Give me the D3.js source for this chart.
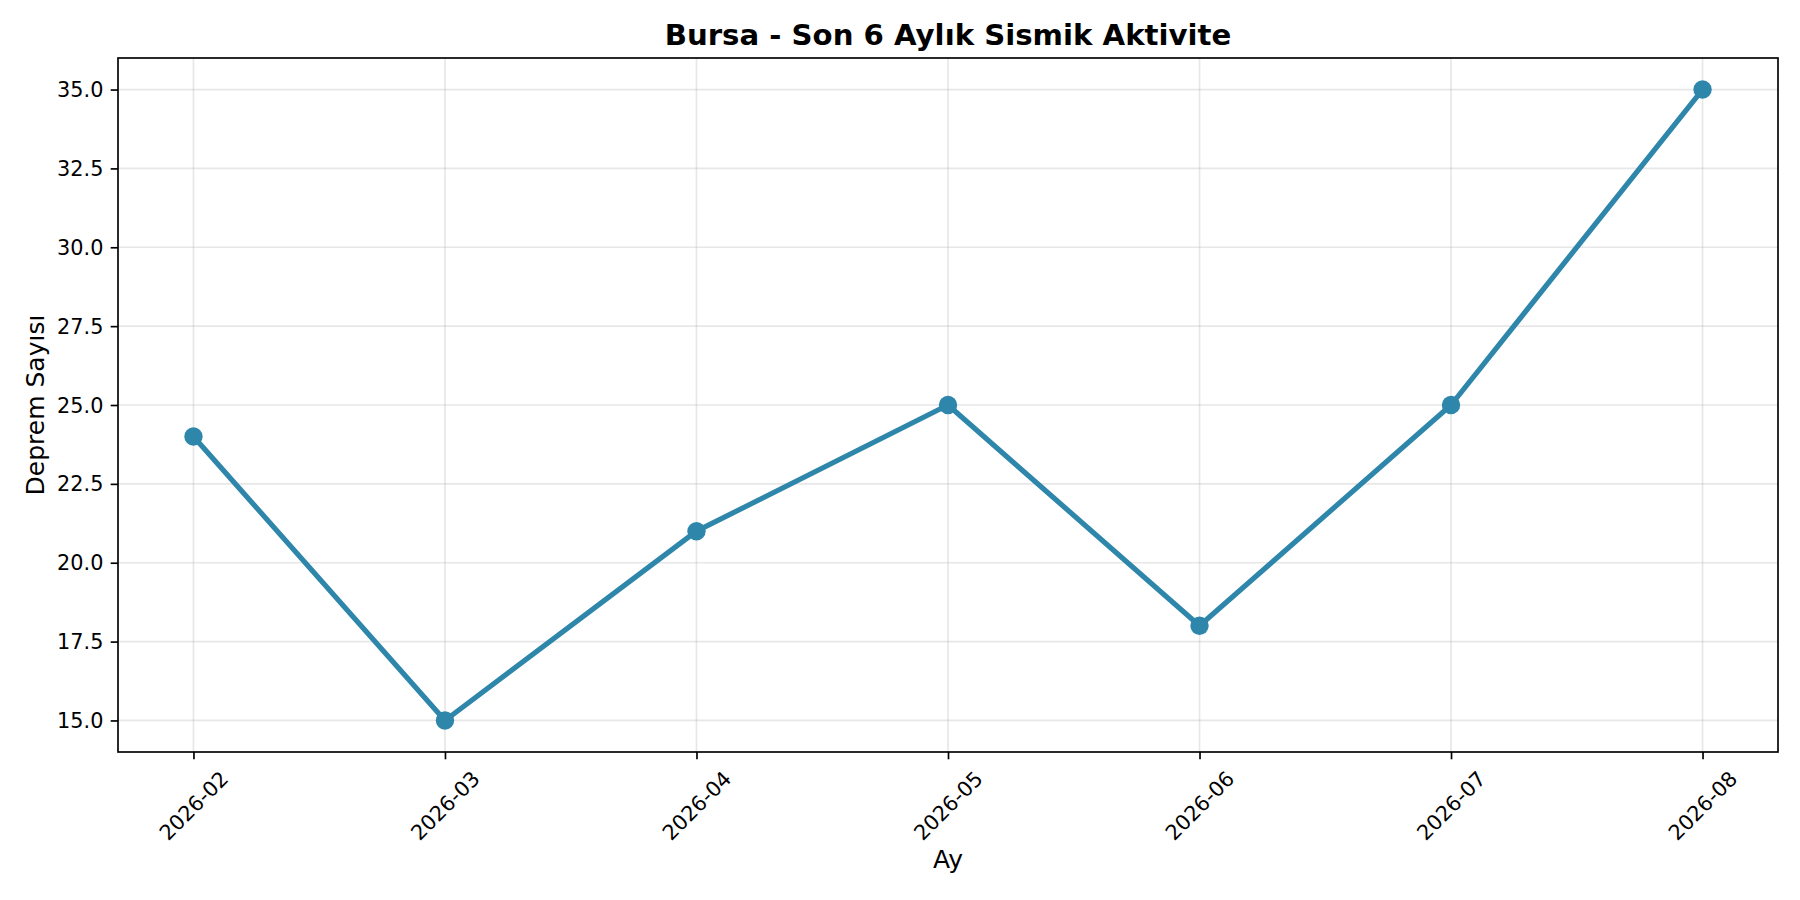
<!DOCTYPE html>
<html>
<head>
<meta charset="utf-8">
<script src="https://cdn.jsdelivr.net/npm/d3@7"></script>
<style>
  body { margin: 0; background: #fff; }
  svg { font-family: "DejaVu Sans", sans-serif; }
</style>
</head>
<body>
<svg width="1800" height="900"></svg>
<script>
// data
const months = ["2026-02", "2026-03", "2026-04", "2026-05", "2026-06", "2026-07", "2026-08"];
const counts = [24, 15, 21, 25, 18, 25, 35];
const yTicks = [15.0, 17.5, 20.0, 22.5, 25.0, 27.5, 30.0, 32.5, 35.0];

const titleText = "Bursa - Son 6 Aylık Sismik Aktivite";
const xLabel = "Ay";
const yLabel = "Deprem Sayısı";

var svg = d3.select("svg");
const width = +svg.attr("width");
const height = +svg.attr("height");
const margin = { top: 58, right: 22, bottom: 148, left: 118 };
const lineColor = "#2E86AB";

// matplotlib style 5% margins on both axes
const n = months.length;
const x = d3.scaleLinear()
	.domain([-0.05 * (n - 1), (n - 1) * 1.05])
	.range([margin.left, width - margin.right]);

const yMin = d3.min(counts), yMax = d3.max(counts);
const yPad = (yMax - yMin) * 0.05;
const y = d3.scaleLinear()
	.domain([yMin - yPad, yMax + yPad])
	.range([height - margin.bottom, margin.top]);

// grid
const grid = svg.append("g")
	.attr("stroke", "#b0b0b0")
	.attr("stroke-opacity", 0.3)
	.attr("stroke-width", 1.67);

grid.selectAll("line.v")
	.data(months)
	.join("line")
	.attr("class", "v")
	.attr("x1", (d, i) => x(i))
	.attr("x2", (d, i) => x(i))
	.attr("y1", margin.top)
	.attr("y2", height - margin.bottom);

grid.selectAll("line.h")
	.data(yTicks)
	.join("line")
	.attr("class", "h")
	.attr("x1", margin.left)
	.attr("x2", width - margin.right)
	.attr("y1", d => y(d))
	.attr("y2", d => y(d));

// axes
const xAxis = svg.append("g")
	.attr("transform", `translate(0,${height - margin.bottom})`)
	.call(
		d3.axisBottom(x)
			.tickValues(d3.range(n))
			.tickFormat(i => months[i])
			.tickSize(7.3)
			.tickPadding(7.3)
	);

const yAxis = svg.append("g")
	.attr("transform", `translate(${margin.left},0)`)
	.call(
		d3.axisLeft(y)
			.tickValues(yTicks)
			.tickFormat(d3.format(".1f"))
			.tickSize(7.3)
			.tickPadding(7.3)
	);

[xAxis, yAxis].forEach(a => {
	a.select(".domain").remove();
	a.selectAll(".tick line").attr("stroke", "#000").attr("stroke-width", 1.67);
	a.selectAll(".tick text")
		.attr("fill", "#000")
		.style("font-size", "20.8px")
		.style("font-family", "DejaVu Sans");
});

// rotated x tick labels, bbox centered under the tick like matplotlib
xAxis.selectAll(".tick text").each(function () {
	const t = d3.select(this);
	const len = this.getComputedTextLength();
	const h = 24;
	const half = (len + h) * Math.SQRT1_2 / 2;
	t.attr("text-anchor", "middle")
		.attr("dominant-baseline", "central")
		.attr("dy", null)
		.attr("y", 0)
		.attr("transform", `translate(0,${14.6 + half}) rotate(-45)`);
});

yAxis.selectAll(".tick text").attr("dominant-baseline", "central").attr("dy", null);

// frame
svg.append("rect")
	.attr("x", margin.left)
	.attr("y", margin.top)
	.attr("width", width - margin.left - margin.right)
	.attr("height", height - margin.top - margin.bottom)
	.attr("fill", "none")
	.attr("stroke", "#000")
	.attr("stroke-width", 1.67);

// line and markers
const line = d3.line()
	.x((d, i) => x(i))
	.y(d => y(d));

svg.append("path")
	.datum(counts)
	.attr("fill", "none")
	.attr("stroke", lineColor)
	.attr("stroke-width", 5.2)
	.attr("stroke-linejoin", "round")
	.attr("stroke-linecap", "round")
	.attr("d", line);

svg.append("g")
	.selectAll("circle")
	.data(counts)
	.join("circle")
	.attr("cx", (d, i) => x(i))
	.attr("cy", d => y(d))
	.attr("r", 9.2)
	.attr("fill", lineColor);

// texts
svg.append("text")
	.attr("x", (margin.left + width - margin.right) / 2)
	.attr("y", 45)
	.attr("text-anchor", "middle")
	.style("font-size", "29.2px")
	.style("font-weight", "bold")
	.text(titleText);

svg.append("text")
	.attr("x", (margin.left + width - margin.right) / 2)
	.attr("y", 868)
	.attr("text-anchor", "middle")
	.style("font-size", "25px")
	.text(xLabel);

svg.append("text")
	.attr("transform", `translate(44,${(margin.top + height - margin.bottom) / 2}) rotate(-90)`)
	.attr("text-anchor", "middle")
	.style("font-size", "25px")
	.text(yLabel);
</script>
</body>
</html>
